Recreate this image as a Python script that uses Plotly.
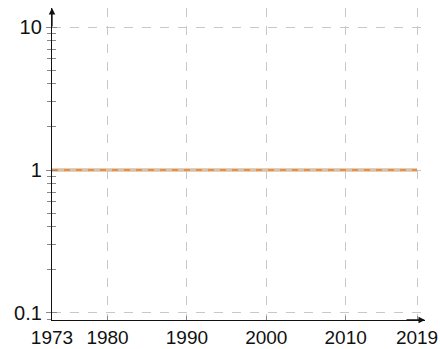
import plotly.graph_objects as go

years = [1973, 2019]
series_a = [1.0, 1.0]   # solid light line
series_b = [1.0, 1.0]   # orange dashed line

x_ticks = [1973, 1980, 1990, 2000, 2010, 2019]
x_ticklabels = ["1973", "1980", "1990", "2000", "2010", "2019"]
y_ticks = [0.1, 1, 10]
y_ticklabels = ["0.1", "1", "10"]

FONT = "Liberation Sans"

fig = go.Figure()
fig.add_trace(go.Scatter(x=years, y=series_a, mode="lines",
                         line=dict(color="#d9c0a6", width=3.5), showlegend=False))
fig.add_trace(go.Scatter(x=years, y=series_b, mode="lines",
                         line=dict(color="#e8903f", width=2, dash="6px,6px"), showlegend=False))

fig.update_layout(
    width=440, height=349,
    margin=dict(l=52, r=15, t=8, b=29),
    plot_bgcolor="white", paper_bgcolor="white",
    font=dict(family=FONT, size=20, color="#111"),
    xaxis=dict(range=[1973, 2020.0], tickvals=x_ticks, ticktext=x_ticklabels,
               automargin=False, tickfont=dict(size=19), ticklabeloverflow="allow",
               showgrid=True, gridcolor="#c8c8c8", griddash="dash", gridwidth=1,
               showline=True, linecolor="#111", linewidth=1.3,
               ticks="inside", ticklen=4, tickcolor="#888", zeroline=False),
    yaxis=dict(type="log", range=[-1.049, 1.133], tickvals=y_ticks, ticktext=y_ticklabels,
               automargin=False,
               showgrid=True, gridcolor="#c8c8c8", griddash="dash", gridwidth=1,
               showline=True, linecolor="#111", linewidth=1.3,
               ticks="outside", ticklen=5, tickcolor="#888", zeroline=False,
               minor=dict(ticks="outside", ticklen=4, tickcolor="#888", dtick="D1", showgrid=False)),
    yaxis2=dict(type="log", range=[-1.049, 1.133], overlaying="y", side="left",
                automargin=False,
                showgrid=False, showticklabels=False, showline=False,
                tickvals=y_ticks, ticks="inside", ticklen=5, tickcolor="#888",
                minor=dict(ticks="inside", ticklen=4, tickcolor="#888", dtick="D1", showgrid=False)),
)
# invisible trace to activate yaxis2
fig.add_trace(go.Scatter(x=years, y=series_a, yaxis="y2", mode="lines",
                         line=dict(width=0), hoverinfo="skip", showlegend=False, opacity=0))

fig.add_annotation(x=0, y=1, xref="paper", yref="paper", ax=0, ay=20,
                   showarrow=True, arrowhead=2, arrowsize=1.0, arrowwidth=1.3, arrowcolor="#111", text="")
fig.add_annotation(x=1, y=0, xref="paper", yref="paper", ax=-20, ay=0,
                   showarrow=True, arrowhead=2, arrowsize=1.0, arrowwidth=1.3, arrowcolor="#111", text="")

fig.write_html("out.html", config={"displayModeBar": False},
               post_script="document.body.style.margin='0';document.body.style.overflow='hidden';")
